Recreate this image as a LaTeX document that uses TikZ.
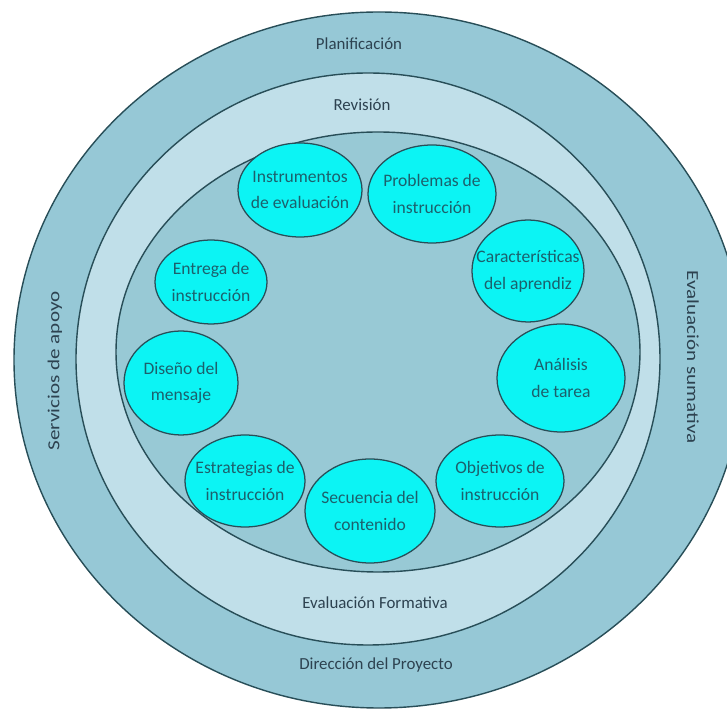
\documentclass[tikz,border=0pt]{standalone}
\usepackage{fontspec}
\setmainfont{Carlito}
\newfontfamily\anchafont[FakeStretch=1.25]{Carlito}
\usepackage{tikz}

\definecolor{azulmedio}{RGB}{150,200,214}
\definecolor{azulclaro}{RGB}{192,223,233}
\definecolor{azulint}{RGB}{152,201,213}
\definecolor{cian}{RGB}{12,244,244}
\definecolor{borde}{RGB}{40,78,88}
\definecolor{textoanillo}{RGB}{45,66,80}
\definecolor{textocian}{RGB}{28,96,108}

\begin{document}
\begin{tikzpicture}[anillo/.style={draw=borde,line width=1pt},
burbuja/.style={draw=borde,line width=0.9pt,fill=cian},
texto/.style={align=center,text=textocian,font=\fontsize{12.5}{19}\selectfont},
rotulo/.style={text=textoanillo,font=\fontsize{12}{14}\selectfont},
lateral/.style={text=textoanillo,font=\anchafont\fontsize{12}{14}\selectfont}]
\useasboundingbox (0,0) rectangle (18.175,17.75);
\fill[white](0,0) rectangle (18.175,17.75);
\clip (0,0) rectangle (18.175,17.75);
% anillos
\draw[anillo,fill=azulmedio](9.475,8.75) ellipse (9.125 and 8.7);
\draw[anillo,fill=azulclaro](9.2,8.775) ellipse (7.3 and 7.15);
\draw[anillo,fill=azulint](9.45,8.95) ellipse (6.55 and 5.5);
\node[rotulo] (plan) at (8.975,16.65) {Planificación};
\node[rotulo] (revis) at (9.05,15.125) {Revisión};
\node[rotulo] (formt) at (9.375,2.675) {Evaluación Formativa};
\node[rotulo] (direc) at (9.4,1.125) {Dirección del Proyecto};
\node[lateral,rotate=90] (apoyo) at (1.375,8.475) {Servicios de apoyo};
\node[lateral,rotate=-90] (sumat) at (17.325,8.825) {Evaluación sumativa};
% burbujas
\draw[burbuja](7.5,13.0) ellipse (1.55 and 1.175) node[texto] (instr) {Instrumentos\\de evaluación};
\draw[burbuja](10.8,12.9) ellipse (1.6 and 1.225) node[texto] (probl) {Problemas de\\instrucción};
\draw[burbuja](13.2,10.975) ellipse (1.4 and 1.275) node[texto] (caract) {Características\\del aprendiz};
\draw[burbuja](14.025,8.3) ellipse (1.6 and 1.35) node[texto] (anali) {Análisis\\de tarea};
\draw[burbuja](12.5,5.725) ellipse (1.6 and 1.15) node[texto] (objet) {Objetivos de\\instrucción};
\draw[burbuja](9.25,4.975) ellipse (1.625 and 1.3) node[texto] (secu) {Secuencia del\\contenido};
\draw[burbuja](6.125,5.725) ellipse (1.5 and 1.15) node[texto] (estra) {Estrategias de\\instrucción};
\draw[burbuja](4.525,8.175) ellipse (1.425 and 1.3) node[texto] (disen) {Diseño del\\mensaje};
\draw[burbuja](5.275,10.7) ellipse (1.4 and 1.05) node[texto] (entre) {Entrega de\\instrucción};
\end{tikzpicture}
\end{document}
